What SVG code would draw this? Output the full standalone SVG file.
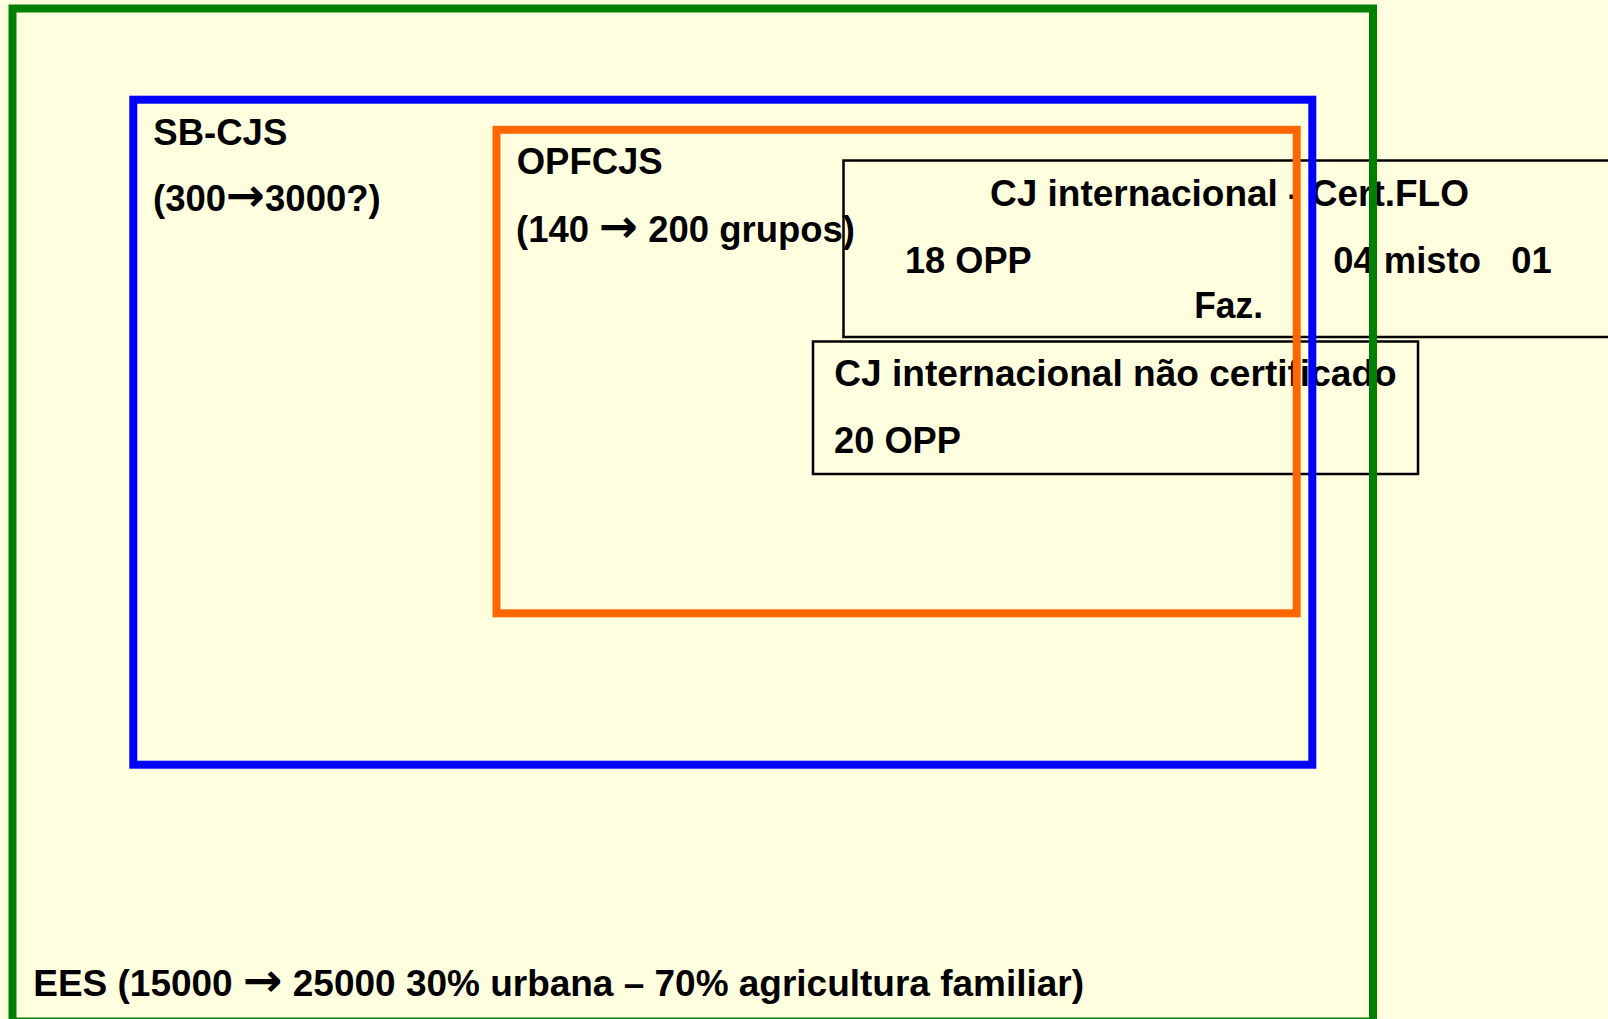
<svg xmlns="http://www.w3.org/2000/svg" width="1608" height="1019" viewBox="0 0 1608 1019">
<style>
  .t { font-family: "Liberation Sans", Arial, sans-serif; font-weight: bold; font-size: 36px; fill: #000000; }
  .ar { font-family: "DejaVu Sans", sans-serif; font-weight: bold; font-size: 46px; }
  .frame { fill: none; stroke-width: 8; }
  .box { fill: #FFFFE0; stroke: #000000; stroke-width: 2.5; }
</style>
<rect x="0" y="0" width="1608" height="1019" fill="#FFFFE0"/>
<g id="cj-flo">
  <rect class="box" x="843.5" y="160.5" width="820" height="176.5"/>
  <text class="t" x="990" y="205.7" textLength="479" lengthAdjust="spacingAndGlyphs">CJ internacional - Cert.FLO</text>
  <text class="t" x="905" y="272.7" textLength="126.7" lengthAdjust="spacingAndGlyphs">18 OPP</text>
  <text class="t" x="1333.3" y="272.7" xml:space="preserve" textLength="218.4" lengthAdjust="spacingAndGlyphs">04 misto   01</text>
  <text class="t" x="1194.3" y="317.7" textLength="68.7" lengthAdjust="spacingAndGlyphs">Faz.</text>
</g>
<g id="cj-nao">
  <rect class="box" x="813" y="341.5" width="605" height="132.5"/>
  <text class="t" x="834.3" y="385.7" textLength="562.4" lengthAdjust="spacingAndGlyphs">CJ internacional não certificado</text>
  <text class="t" x="834" y="453.3" textLength="127" lengthAdjust="spacingAndGlyphs">20 OPP</text>
</g>
<g id="ees">
  <rect class="frame" stroke="#008000" x="12.5" y="8.5" width="1360.5" height="1013"/>
  <text class="t" x="33.3" y="995.7" textLength="1050.7" lengthAdjust="spacingAndGlyphs">EES (15000 <tspan class="ar">→</tspan> 25000 30% urbana – 70% agricultura familiar)</text>
</g>
<g id="sb-cjs">
  <rect class="frame" stroke="#0000FF" x="133.3" y="99.7" width="1179" height="665"/>
  <text class="t" x="153.3" y="145" textLength="134" lengthAdjust="spacingAndGlyphs">SB-CJS</text>
  <text class="t" x="153" y="211" textLength="227.7" lengthAdjust="spacingAndGlyphs">(300<tspan class="ar">→</tspan>3000?)</text>
</g>
<g id="opfcjs">
  <rect class="frame" stroke="#FF6600" x="496.5" y="129.8" width="800.2" height="483.5"/>
  <text class="t" x="516.7" y="174.3" textLength="146" lengthAdjust="spacingAndGlyphs">OPFCJS</text>
  <text class="t" x="516" y="241.7" textLength="339" lengthAdjust="spacingAndGlyphs">(140 <tspan class="ar">→</tspan> 200 grupos)</text>
</g>
<g id="connectors"/>
</svg>
